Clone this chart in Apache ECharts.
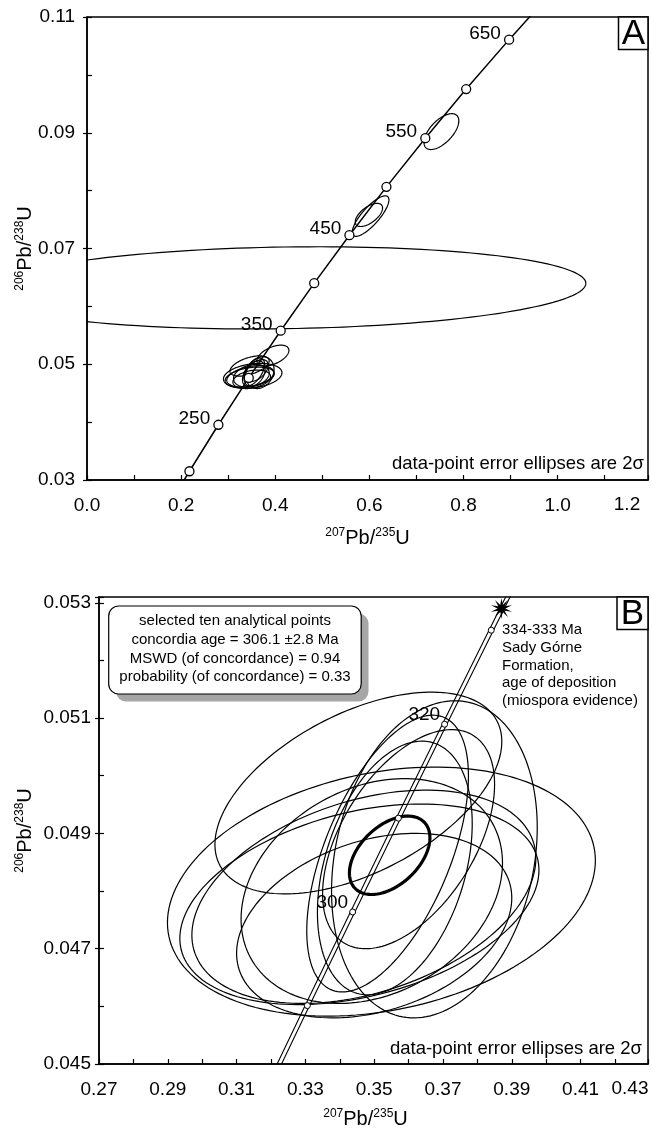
<!DOCTYPE html>
<html>
<head>
<meta charset="utf-8">
<script src="https://cdn.jsdelivr.net/npm/echarts@6.0.0/dist/echarts.min.js"></script>
<style>
  html, body { margin: 0; padding: 0; background: #fff; }
  #chart { width: 652px; height: 1135px; }
</style>
</head>
<body>
<div id="chart"></div>
<script>
const FONT = '"Liberation Sans", Arial, sans-serif';

/* concordia curve, panel A (ages in Ma) */
const concAgeA = [190, 200, 250, 300, 350, 400, 450, 500, 550, 600, 650, 700];
const concXA = [0.20577, 0.21770, 0.27916, 0.34373, 0.41157, 0.48279, 0.55764, 0.63624, 0.71885, 0.80565, 0.89685, 0.99249];
const concYA = [0.029912, 0.031511, 0.039543, 0.047638, 0.055795, 0.064016, 0.072300, 0.080650, 0.089065, 0.097544, 0.10609, 0.11470];
/* age markers, panel A */
const markXA = [0.21770, 0.27916, 0.34373, 0.41157, 0.48279, 0.55764, 0.63624, 0.71885, 0.80565, 0.89685];
const markYA = [0.031511, 0.039543, 0.047638, 0.055795, 0.064016, 0.072300, 0.080650, 0.089065, 0.097544, 0.10609];
const markLabelA = ['', '250', '', '350', '', '450', '', '550', '', '650'];

/* error ellipses shown only in panel A: centre, half-widths (2 sigma), correlation */
const ellA_cx = [0.420, 0.753, 0.6025, 0.599, 0.395];
const ellA_cy = [0.0632, 0.0902, 0.0756, 0.0758, 0.0515];
const ellA_sx = [0.640, 0.037, 0.039, 0.029, 0.034];
const ellA_sy = [0.0071, 0.0031, 0.0035, 0.0020, 0.0018];
const ellA_rho = [0.11, 0.60, 0.80, 0.60, 0.50];

/* ten selected analyses (panel B, also in A) */
const ellB_cx = [0.3521, 0.3457, 0.3493, 0.3454, 0.3675, 0.3539, 0.3560, 0.3600, 0.3470, 0.3500];
const ellB_cy = [0.04799, 0.04777, 0.04800, 0.04970, 0.04855, 0.04865, 0.04840, 0.04890, 0.04790, 0.04740];
const ellB_sx = [0.0622, 0.0522, 0.0380, 0.0417, 0.0299, 0.0235, 0.0225, 0.0250, 0.0500, 0.0400];
const ellB_sy = [0.00216, 0.00174, 0.00195, 0.00175, 0.00275, 0.00240, 0.00220, 0.00190, 0.00185, 0.00160];
const ellB_rho = [0.25, 0.34, 0.25, 0.51, 0.20, 0.56, 0.35, 0.50, 0.36, 0.30];

/* concordia age ellipse */
const ageEll = [0.3545, 0.04862, 0.0117, 0.00068, 0.45];

/* concordia band, panel B */
const bandY = [0.044392, 0.046013, 0.047637, 0.049264, 0.050893, 0.052524, 0.054158];
const bandLoX = [0.31689, 0.32993, 0.34310, 0.35640, 0.36983, 0.38339, 0.39709];
const bandHiX = [0.31817, 0.33121, 0.34438, 0.35768, 0.37111, 0.38467, 0.39837];
const markXB = [0.33057, 0.34374, 0.35704, 0.37047, 0.38403];
const markYB = [0.046013, 0.047637, 0.049264, 0.050893, 0.052524];
const markLabelB = ['', '300', '', '320', ''];
const starPt = [0.3870, 0.05290];

function zip() {
  const cols = Array.prototype.slice.call(arguments);
  return cols[0].map((_, i) => cols.map(c => c[i]));
}

function ellipseItem(lw) {
  return function (params, api) {
    const cx = api.value(0), cy = api.value(1), sx = api.value(2), sy = api.value(3), r = api.value(4);
    const q = Math.sqrt(1 - r * r);
    const pts = [];
    for (let k = 0; k < 160; k++) {
      const t = 2 * Math.PI * k / 160;
      pts.push(api.coord([cx + sx * Math.cos(t), cy + sy * (r * Math.cos(t) + q * Math.sin(t))]));
    }
    return {
      type: 'polygon',
      shape: { points: pts },
      style: { fill: 'none', stroke: '#000', lineWidth: lw }
    };
  };
}

function starPath(n, ro, ri) {
  let d = '';
  for (let i = 0; i < 2 * n; i++) {
    const r = i % 2 ? ri : ro;
    const a = i * Math.PI / n - Math.PI / 2;
    d += (i ? 'L' : 'M') + (r * Math.cos(a)).toFixed(2) + ' ' + (r * Math.sin(a)).toFixed(2);
  }
  return 'path://' + d + 'Z';
}

/* label only on the major ticks */
function fmt(min, major, digits) {
  return function (v) {
    const n = (v - min) / major;
    if (Math.abs(n - Math.round(n)) > 1e-6) return '';
    return v.toFixed(digits);
  };
}

const rich = {
  s: { fontSize: 12, fontFamily: FONT, verticalAlign: 'top', lineHeight: 22, color: '#000' },
  n: { fontSize: 20, fontFamily: FONT, lineHeight: 22, color: '#000' }
};
const lineBlack = { color: '#000', width: 1.5 };

/* value axis: all ticks inside, labels hidden on request */
function axis(o) {
  return Object.assign({
    type: 'value',
    axisLine: { lineStyle: lineBlack },
    axisTick: { inside: true, length: 5, lineStyle: { color: '#000', width: 1.2 } },
    splitLine: { show: false },
    nameLocation: 'middle',
    nameTextStyle: { rich: rich }
  }, o);
}

const myChart = echarts.init(document.getElementById('chart'), null, { renderer: 'canvas' });

const option = {
  backgroundColor: '#fff',
  animation: false,
  grid: [
    { left: 87, top: 17, width: 561, height: 463, show: true, borderColor: '#000', borderWidth: 1.5, outerBoundsMode: 'none' },
    { left: 99, top: 597, width: 549, height: 467, show: true, borderColor: '#000', borderWidth: 1.5, outerBoundsMode: 'none' }
  ],
  xAxis: [
    axis({
      gridIndex: 0, position: 'bottom', min: 0, max: 1.192, interval: 0.1,
      axisLabel: { color: '#000', fontSize: 19, fontFamily: FONT, margin: 16, formatter: fmt(0, 0.2, 1) },
      name: '{s|207}{n|Pb/}{s|235}{n|U}', nameGap: 47
    }),
    axis({
      gridIndex: 1, position: 'bottom', min: 0.27, max: 0.4296, interval: 0.01,
      axisLabel: { color: '#000', fontSize: 19, fontFamily: FONT, margin: 16, formatter: fmt(0.27, 0.02, 2) },
      name: '{s|207}{n|Pb/}{s|235}{n|U}', nameGap: 44,
      nameTextStyle: { rich: rich, padding: [0, 16, 0, 0] }
    })
  ],
  yAxis: [
    /* minor ticks inside, no labels */
    axis({ gridIndex: 0, position: 'left', min: 0.03, max: 0.11, interval: 0.01, axisLabel: { show: false },
      name: '{s|206}{n|Pb/}{s|238}{n|U}', nameGap: 51, nameRotate: 90 }),
    axis({ gridIndex: 1, position: 'left', min: 0.045, max: 0.0531, interval: 0.001, axisLabel: { show: false },
      name: '{s|206}{n|Pb/}{s|238}{n|U}', nameGap: 63, nameRotate: 90 }),
    /* major ticks outside, with labels */
    axis({
      gridIndex: 0, position: 'left', offset: 0, min: 0.03, max: 0.11, interval: 0.02, axisLine: { show: false },
      axisTick: { inside: false, length: 4, lineStyle: { color: '#000', width: 1.2 } },
      axisLabel: { color: '#000', fontSize: 19, fontFamily: FONT, margin: 12, formatter: fmt(0.03, 0.02, 2) }
    }),
    axis({
      gridIndex: 1, position: 'left', offset: 0, min: 0.045, max: 0.0531, interval: 0.002, axisLine: { show: false },
      axisTick: { inside: false, length: 4, lineStyle: { color: '#000', width: 1.2 } },
      axisLabel: { color: '#000', fontSize: 19, fontFamily: FONT, margin: 8, formatter: fmt(0.045, 0.002, 3) }
    })
  ],
  series: [
    /* panel A */
    {
      type: 'line', xAxisIndex: 0, yAxisIndex: 0, clip: true, showSymbol: false,
      data: zip(concXA, concYA),
      lineStyle: { color: '#000', width: 1.5 }, silent: true, z: 3
    },
    {
      type: 'custom', xAxisIndex: 0, yAxisIndex: 0, clip: true,
      renderItem: ellipseItem(1.2),
      data: zip(ellA_cx, ellA_cy, ellA_sx, ellA_sy, ellA_rho).concat(zip(ellB_cx, ellB_cy, ellB_sx, ellB_sy, ellB_rho)),
      encode: { x: 0, y: 1 }, z: 2
    },
    {
      type: 'scatter', xAxisIndex: 0, yAxisIndex: 0,
      data: zip(markXA, markYA),
      symbol: 'circle', symbolSize: 9,
      itemStyle: { color: '#fff', borderColor: '#000', borderWidth: 1.3, opacity: 1 },
      label: {
        show: true, position: 'left', distance: 3, offset: [0, -6],
        color: '#000', fontSize: 19, fontFamily: FONT,
        formatter: p => markLabelA[p.dataIndex]
      },
      z: 4
    },
    /* panel B */
    {
      type: 'custom', xAxisIndex: 1, yAxisIndex: 1, clip: true,
      renderItem: ellipseItem(1.2),
      data: zip(ellB_cx, ellB_cy, ellB_sx, ellB_sy, ellB_rho),
      encode: { x: 0, y: 1 }, z: 2
    },
    {
      type: 'custom', xAxisIndex: 1, yAxisIndex: 1, clip: true,
      renderItem: ellipseItem(3.2),
      data: [ageEll],
      encode: { x: 0, y: 1 }, z: 3
    },
    {
      type: 'line', xAxisIndex: 1, yAxisIndex: 1, clip: true, showSymbol: false,
      data: zip(bandLoX, bandY),
      lineStyle: { color: '#000', width: 1.1 }, silent: true, z: 3
    },
    {
      type: 'line', xAxisIndex: 1, yAxisIndex: 1, clip: true, showSymbol: false,
      data: zip(bandHiX, bandY),
      lineStyle: { color: '#000', width: 1.1 }, silent: true, z: 3
    },
    {
      type: 'scatter', xAxisIndex: 1, yAxisIndex: 1,
      data: zip(markXB, markYB),
      symbol: 'circle', symbolSize: 6,
      itemStyle: { color: '#fff', borderColor: '#000', borderWidth: 1, opacity: 1 },
      label: {
        show: true, position: 'left', distance: 1, offset: [0, -9.5],
        color: '#000', fontSize: 19, fontFamily: FONT,
        formatter: p => markLabelB[p.dataIndex]
      },
      z: 4
    },
    {
      type: 'scatter', xAxisIndex: 1, yAxisIndex: 1,
      data: [starPt],
      symbol: starPath(10, 10, 3.5), symbolSize: 21,
      itemStyle: { color: '#000', opacity: 1 }, z: 5
    }
  ],
  graphic: [
    /* last tick labels sit left of the border */
    { type: 'text', x: 627, y: 505, style: { text: '1.2', fill: '#000', font: '19px ' + FONT, align: 'center', verticalAlign: 'middle' } },
    { type: 'text', x: 630, y: 1088.5, style: { text: '0.43', fill: '#000', font: '19px ' + FONT, align: 'center', verticalAlign: 'middle' } },
    /* panel letters */
    { type: 'rect', shape: { x: 618.5, y: 17, width: 29.5, height: 32.5 }, style: { fill: '#fff', stroke: '#000', lineWidth: 1.5 }, z: 10 },
    { type: 'text', x: 633.3, y: 34, style: { text: 'A', fill: '#000', font: '35px ' + FONT, align: 'center', verticalAlign: 'middle' }, z: 11 },
    { type: 'rect', shape: { x: 617, y: 597, width: 31, height: 32.5 }, style: { fill: '#fff', stroke: '#000', lineWidth: 1.5 }, z: 10 },
    { type: 'text', x: 632.5, y: 614, style: { text: 'B', fill: '#000', font: '35px ' + FONT, align: 'center', verticalAlign: 'middle' }, z: 11 },
    /* notes */
    { type: 'text', x: 644, y: 463.5, style: { text: 'data-point error ellipses are 2\u03c3', fill: '#000', font: '18.5px ' + FONT, align: 'right', verticalAlign: 'middle' }, z: 10 },
    { type: 'text', x: 642, y: 1048.5, style: { text: 'data-point error ellipses are 2\u03c3', fill: '#000', font: '18.5px ' + FONT, align: 'right', verticalAlign: 'middle' }, z: 10 },
    /* result box */
    { type: 'rect', shape: { x: 116, y: 613.5, width: 252.5, height: 88, r: 10 }, style: { fill: '#a6a6a6' }, z: 10 },
    { type: 'rect', shape: { x: 108.7, y: 606, width: 252.5, height: 88, r: 10 }, style: { fill: '#fff', stroke: '#000', lineWidth: 1.2 }, z: 11 },
    {
      type: 'text', x: 235, y: 611.2, z: 12,
      style: {
        text: 'selected ten analytical points\nconcordia age = 306.1 \u00b12.8 Ma\nMSWD (of concordance) = 0.94\nprobability (of concordance) = 0.33',
        fill: '#000', font: '15px ' + FONT, lineHeight: 18.9, align: 'center', verticalAlign: 'top'
      }
    },
    {
      type: 'text', x: 502, y: 621, z: 12,
      style: {
        text: '334-333 Ma\nSady G\u00f3rne\nFormation,\nage of deposition\n(miospora evidence)',
        fill: '#000', font: '15px ' + FONT, lineHeight: 17.75, align: 'left', verticalAlign: 'top'
      }
    }
  ]
};

myChart.setOption(option);
</script>
</body>
</html>
